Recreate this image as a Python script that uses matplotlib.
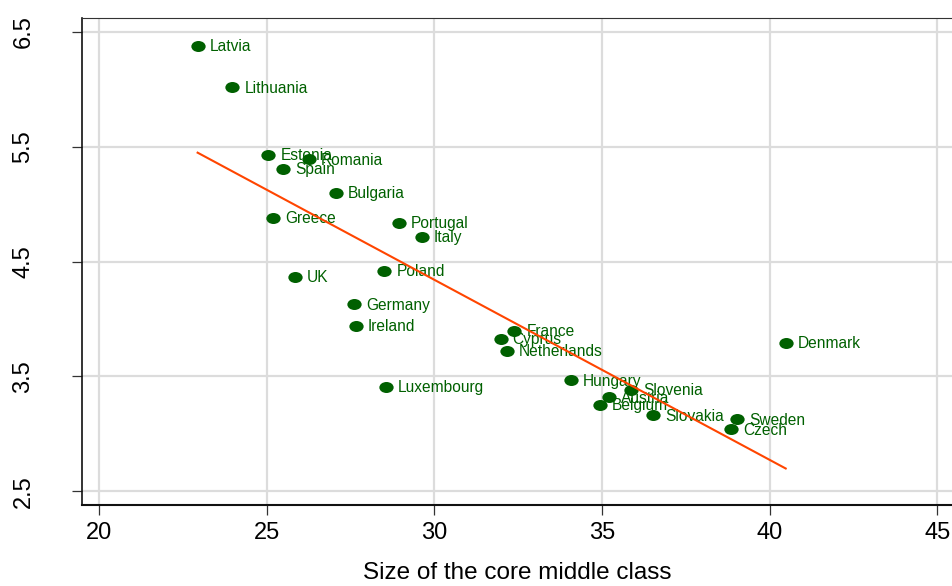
import numpy as np
import matplotlib
matplotlib.use("Agg")
import matplotlib.pyplot as plt
from matplotlib.path import Path
from matplotlib.transforms import Affine2D

# Country data: size of the core middle class vs. outcome measure
countries = ["Latvia", "Lithuania", "Estonia", "Romania", "Spain", "Bulgaria",
             "Greece", "Portugal", "Italy", "UK", "Poland", "Germany", "Ireland",
             "Luxembourg", "France", "Cyprus", "Netherlands", "Hungary",
             "Slovenia", "Austria", "Belgium", "Slovakia", "Sweden", "Czech",
             "Denmark"]
middle_class = [22.94, 23.98, 25.05, 26.26, 25.50, 27.06,
                25.20, 28.95, 29.63, 25.84, 28.51, 27.60, 27.66,
                28.55, 32.39, 31.98, 32.16, 34.07,
                35.87, 35.21, 34.94, 36.53, 39.04, 38.85,
                40.48]
outcome = [6.378, 6.019, 5.428, 5.391, 5.309, 5.101,
           4.882, 4.839, 4.717, 4.368, 4.421, 4.127, 3.940,
           3.410, 3.898, 3.826, 3.724, 3.466,
           3.381, 3.318, 3.253, 3.161, 3.128, 3.041,
           3.791]

x_ticks = [20, 25, 30, 35, 40, 45]
y_ticks = [2.5, 3.5, 4.5, 5.5, 6.5]
x_label = "Size of the core middle class"

green = "#006000"
fit_color = "#FF4500"
grid_color = "#DCDCDC"

plt.rcParams["font.family"] = ["Liberation Sans", "DejaVu Sans"]

fig = plt.figure(figsize=(9.52, 5.86), dpi=100)
ax = fig.add_axes([0.0865, 0.1382, 1.0 - 0.0865, 0.9688 - 0.1382])

x = np.array(middle_class)
y = np.array(outcome)

# slightly wide elliptical marker
ellipse = Path(Affine2D().scale(1.3, 1.0).transform(Path.unit_circle().vertices),
               Path.unit_circle().codes)
ax.plot(x, y, linestyle="none", marker=ellipse, markersize=10.3,
        color=green, markeredgewidth=0, zorder=3)

for name, xi, yi in zip(countries, x, y):
    ax.annotate(name, (xi, yi), xytext=(8.6, -0.6), textcoords="offset points",
                ha="left", va="center", fontsize=11.2, color=green, zorder=4)

# linear fit over the observed range
slope, intercept = np.polyfit(x, y, 1)
xf = np.array([x.min(), x.max()])
ax.plot(xf, intercept + slope * xf, color=fit_color, linewidth=1.5, zorder=5)

ax.set_xlim(19.502, 45.44)
ax.set_ylim(2.381, 6.619)
ax.set_xticks(x_ticks)
ax.set_yticks(y_ticks)
ax.set_xticklabels([str(t) for t in x_ticks])
ax.set_yticklabels([f"{t:.1f}" for t in y_ticks])

ax.grid(True, color=grid_color, linewidth=1.6, zorder=0)
ax.set_axisbelow(True)

ax.spines["right"].set_visible(False)
ax.spines["left"].set_linewidth(1.2)
ax.spines["bottom"].set_linewidth(1.5)
ax.spines["left"].set_color("#111111")
ax.spines["bottom"].set_color("#111111")
ax.spines["top"].set_linewidth(0.8)
ax.spines["top"].set_color("#333333")

ax.tick_params(axis="x", length=7, width=0.9, color="#333333",
               labelsize=17, pad=5)
ax.tick_params(axis="y", length=7.5, width=0.9, color="#333333",
               labelsize=17, pad=27, labelrotation=90)
for lbl in ax.get_yticklabels():
    lbl.set_va("center")

ax.set_xlabel(x_label, fontsize=17.5, labelpad=13)

fig.savefig("out.png", dpi=100)
